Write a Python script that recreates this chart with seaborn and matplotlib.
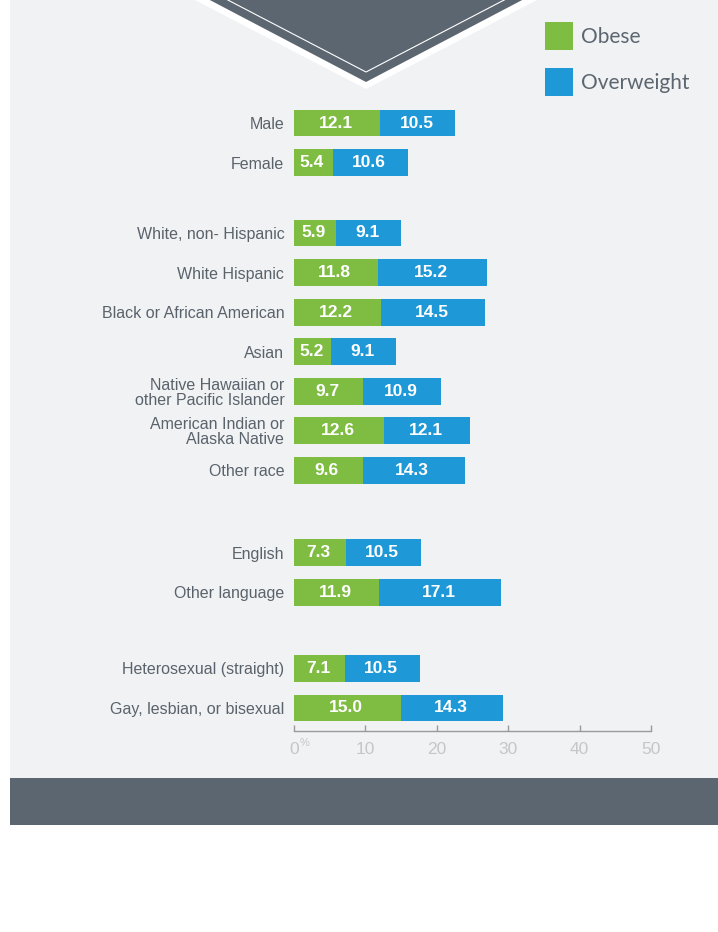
import numpy as np
import pandas as pd
import matplotlib
matplotlib.use("Agg")
import matplotlib.pyplot as plt
import seaborn as sns
from matplotlib.patches import Polygon, Rectangle

# ---------------- data ----------------
categories = [
    "Male", "Female",
    "White, non- Hispanic", "White Hispanic", "Black or African American", "Asian",
    "Native Hawaiian or\nother Pacific Islander", "American Indian or\nAlaska Native", "Other race",
    "English", "Other language",
    "Heterosexual (straight)", "Gay, lesbian, or bisexual",
]
group_sizes = [2, 7, 2, 2]
obese = [12.1, 5.4, 5.9, 11.8, 12.2, 5.2, 9.7, 12.6, 9.6, 7.3, 11.9, 7.1, 15.0]
overweight = [10.5, 10.6, 9.1, 15.2, 14.5, 9.1, 10.9, 12.1, 14.3, 10.5, 17.1, 10.5, 14.3]
series = ["Obese", "Overweight"]
xticks = [0, 10, 20, 30, 40, 50]

# ---------------- style ----------------
GREEN = "#7fbd42"
BLUE = "#1e98d6"
DARK = "#5c6670"
LIGHT_BG = "#f1f2f4"
LABEL = "#5a636c"
TICKLBL = "#c4c6c9"
W, H = 718, 932
group_gaps = [0.78, 1.08, 0.93]

sns.set_theme(style="white")
plt.rcParams["font.family"] = ["Liberation Sans", "DejaVu Sans"]

# positions from group structure
positions = []
p = 0.0
for gi, n in enumerate(group_sizes):
    for k in range(n):
        positions.append(p)
        p += 1.0
    if gi < len(group_gaps):
        p += group_gaps[gi]

df = pd.DataFrame({
    "category": categories,
    "pos": positions,
    "obese": obese,
    "overweight": overweight,
})
df["total"] = df["obese"] + df["overweight"]

fig = plt.figure(figsize=(W / 100, H / 100), dpi=100)
fig.patch.set_facecolor("white")

def fx(x):
    return x / W

def fy(y):
    return 1 - y / H

# backgrounds
fig.add_artist(Rectangle((fx(10), fy(778)), fx(708), 778 / H, transform=fig.transFigure,
                         facecolor=LIGHT_BG, edgecolor="none", zorder=-5))
fig.add_artist(Rectangle((fx(10), fy(825)), fx(708), 47 / H, transform=fig.transFigure,
                         facecolor=DARK, edgecolor="none", zorder=-5))

# chevron
def poly(pts, **kw):
    return Polygon([(fx(a), fy(b)) for a, b in pts], closed=True, transform=fig.transFigure, **kw)

fig.add_artist(poly([(191, -2), (366, 89), (541, -2)], facecolor="white", edgecolor="none", zorder=-4))
fig.add_artist(poly([(206, -2), (366, 82), (526, -2)], facecolor=DARK, edgecolor="none", zorder=-3))
fig.add_artist(matplotlib.lines.Line2D([fx(224), fx(366), fx(508)], [fy(-2), fy(72), fy(-2)],
                                       transform=fig.transFigure, color="white", lw=0.8, zorder=-2))

# axes
ax_top_px, ax_bot_px = 100, 731
ax = fig.add_axes([fx(294), fy(ax_bot_px), (651 - 294) / W, (ax_bot_px - ax_top_px) / H])
ax.patch.set_alpha(0)

sns.barplot(data=df, x="total", y="pos", orient="y", native_scale=True, color=BLUE,
            saturation=1, width=0.68, errorbar=None, linewidth=0, ax=ax)
sns.barplot(data=df, x="obese", y="pos", orient="y", native_scale=True, color=GREEN,
            saturation=1, width=0.68, errorbar=None, linewidth=0, ax=ax)

px_per_unit = (708 - 123) / (positions[-1] - positions[0])
top_lim = positions[0] - (123 - ax_top_px) / px_per_unit
bot_lim = positions[-1] + (ax_bot_px - 708) / px_per_unit
ax.set_ylim(bot_lim, top_lim)
ax.set_xlim(0, 50)

# value labels
for _, r in df.iterrows():
    ax.text(r["obese"] / 2 - 0.2, r["pos"], f"{r['obese']:.1f}", ha="center", va="center",
            color="white", fontsize=12.5, fontweight="bold")
    ax.text(r["obese"] + r["overweight"] / 2 - 0.2, r["pos"], f"{r['overweight']:.1f}", ha="center",
            va="center", color="white", fontsize=12.5, fontweight="bold")

ax.set_yticks(positions)
ax.set_yticklabels(categories, fontsize=11.5, color=LABEL, linespacing=1.0)
ax.tick_params(axis="y", length=0, pad=7, left=False)
ax.set_xticks(xticks)
ax.set_xticklabels([str(t) for t in xticks], fontsize=12.5, color=TICKLBL)
ax.tick_params(axis="x", bottom=True, direction="in", length=4, width=1, color="#9a9a9a", pad=8)
ax.set_xlabel("")
ax.set_ylabel("")
for s in ["top", "right", "left"]:
    ax.spines[s].set_visible(False)
ax.spines["bottom"].set_color("#9a9a9a")
ax.spines["bottom"].set_linewidth(1)

fig.text(fx(300), fy(743), "%", fontsize=8, color=TICKLBL, ha="left", va="center")

# legend
for (lbl, col, ytop) in [(series[0], GREEN, 22), (series[1], BLUE, 68)]:
    fig.add_artist(Rectangle((fx(545), fy(ytop + 28)), 28 / W, 28 / H, transform=fig.transFigure,
                             facecolor=col, edgecolor="none", zorder=3))
    fig.text(fx(581), fy(ytop + 15), lbl, fontsize=15, color=DARK, ha="left", va="center",
             family=["Lato", "DejaVu Sans"])

fig.savefig("out.png", dpi=100, facecolor="white")
